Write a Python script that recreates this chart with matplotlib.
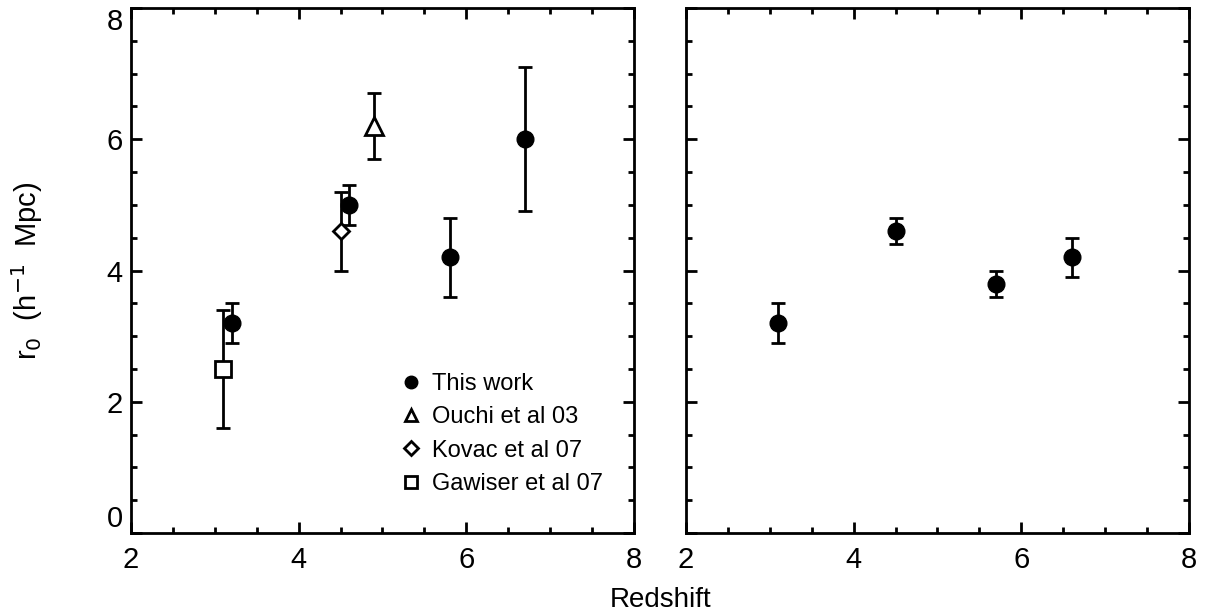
import matplotlib
matplotlib.use('Agg')
import matplotlib.pyplot as plt
from matplotlib.ticker import MultipleLocator

plt.rcParams['font.family'] = ['Liberation Sans', 'DejaVu Sans']

# left panel: this work + literature
this_z   = [3.2, 4.6, 5.8, 6.7]
this_r0  = [3.2, 5.0, 4.2, 6.0]
this_err = [0.3, 0.3, 0.6, 1.1]

ouchi_z, ouchi_r0, ouchi_err = [4.9], [6.2], [0.5]
kovac_z, kovac_r0, kovac_err = [4.5], [4.6], [0.6]
gaw_z, gaw_r0, gaw_err = [3.1], [2.5], [0.9]

# right panel
right_z   = [3.1, 4.5, 5.7, 6.6]
right_r0  = [3.2, 4.6, 3.8, 4.2]
right_err = [0.3, 0.2, 0.2, 0.3]

x_ticks = [2, 4, 6, 8]
y_ticks = [0, 2, 4, 6, 8]

W, H = 1206, 613
fig = plt.figure(figsize=(W / 100, H / 100), dpi=100)
ax1 = fig.add_axes([131 / W, 1 - 533 / H, 503 / W, 525 / H])
ax2 = fig.add_axes([686 / W, 1 - 533 / H, 503 / W, 525 / H])

ebk = dict(color='black', ecolor='black', elinewidth=2.0, capsize=5,
           capthick=2.0, linestyle='none')

ax1.errorbar(gaw_z, gaw_r0, yerr=gaw_err, marker='s', ms=11, mfc='white',
             mec='black', mew=2, **ebk)
ax1.errorbar(kovac_z, kovac_r0, yerr=kovac_err, marker='D', ms=8.5, mfc='white',
             mec='black', mew=2, **ebk)
ax1.errorbar(ouchi_z, ouchi_r0, yerr=ouchi_err, marker='^', ms=13, mfc='white',
             mec='black', mew=2, **ebk)
ax1.errorbar(this_z, this_r0, yerr=this_err, marker='o', ms=12, mfc='black',
             mec='black', **ebk)
ax2.errorbar(right_z, right_r0, yerr=right_err, marker='o', ms=12, mfc='black',
             mec='black', **ebk)

# legend as proxies
h = [ax1.plot([], [], ls='none', marker='o', ms=9, mfc='black', mec='black')[0],
     ax1.plot([], [], ls='none', marker='^', ms=9, mfc='white', mec='black', mew=2)[0],
     ax1.plot([], [], ls='none', marker='D', ms=7, mfc='white', mec='black', mew=2)[0],
     ax1.plot([], [], ls='none', marker='s', ms=9, mfc='white', mec='black', mew=2)[0]]
labels = ['This work', 'Ouchi et al 03', 'Kovac et al 07', 'Gawiser et al 07']
ax1.legend(h, labels, loc='upper left', bbox_to_anchor=(402 / W, 1 - 373 / H),
           bbox_transform=fig.transFigure, frameon=False,
           fontsize=17, handlelength=0.8, handletextpad=0.45, labelspacing=0.48,
           borderaxespad=0, borderpad=0)

for ax in (ax1, ax2):
    ax.set_xlim(2, 8)
    ax.set_ylim(0, 8)
    ax.set_xticks(x_ticks)
    ax.set_yticks(y_ticks)
    ax.xaxis.set_minor_locator(MultipleLocator(0.5))
    ax.yaxis.set_minor_locator(MultipleLocator(0.5))
    ax.tick_params(which='both', direction='in', top=True, right=True,
                   width=2, labelsize=21)
    ax.tick_params(axis='x', which='major', pad=9)
    ax.tick_params(axis='y', which='major', pad=6)
    ax.tick_params(which='major', length=8)
    ax.tick_params(which='minor', length=4)
    for s in ax.spines.values():
        s.set_linewidth(2)

ax2.tick_params(labelleft=False)

# edge y labels sit inside the axis range, as in the original
ylabs = ax1.get_yticklabels()
ylabs[0].set_va('bottom')
ylabs[-1].set_va('top')

ax1.set_ylabel(r'r$_0$  (h$^{-1}$  Mpc)', fontsize=21, labelpad=44)
fig.text(661 / W, 1 - 607 / H, 'Redshift', ha='center', va='baseline', fontsize=20)

fig.savefig('out.png', dpi=100)
